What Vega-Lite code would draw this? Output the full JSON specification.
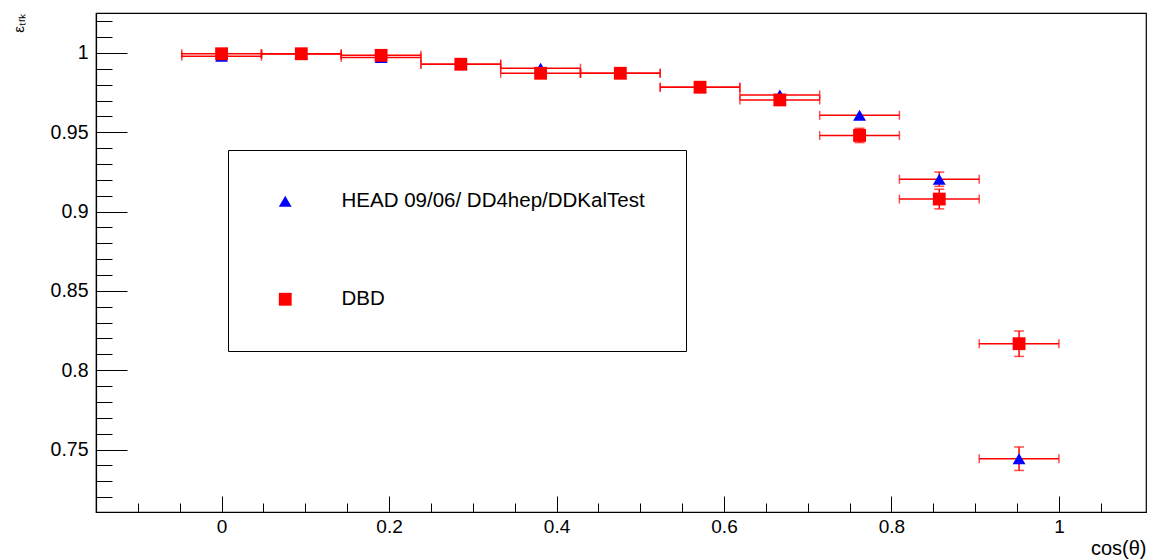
{
  "$schema": "https://vega.github.io/schema/vega-lite/v6.json",
  "autosize": {"type": "none"},
  "width": 1050,
  "height": 499,
  "padding": {"left": 96, "top": 13, "right": 3, "bottom": 47},
  "config": {
    "font": "Liberation Sans",
    "view": {"stroke": "black", "strokeWidth": 1.2},
    "axis": {"grid": false}
  },
  "data": {"values": [
    {"series": "HEAD 09/06/ DD4hep/DDKalTest", "x": 0.0, "xlo": -0.0476, "xhi": 0.0476, "y": 0.998, "ylo": 0.9975, "yhi": 0.9985},
    {"series": "HEAD 09/06/ DD4hep/DDKalTest", "x": 0.0952, "xlo": 0.0476, "xhi": 0.1429, "y": 0.9993, "ylo": 0.9988, "yhi": 0.9998},
    {"series": "HEAD 09/06/ DD4hep/DDKalTest", "x": 0.1905, "xlo": 0.1429, "xhi": 0.2381, "y": 0.9972, "ylo": 0.9964, "yhi": 0.998},
    {"series": "HEAD 09/06/ DD4hep/DDKalTest", "x": 0.2857, "xlo": 0.2381, "xhi": 0.3333, "y": 0.9929, "ylo": 0.9919, "yhi": 0.9939},
    {"series": "HEAD 09/06/ DD4hep/DDKalTest", "x": 0.381, "xlo": 0.3333, "xhi": 0.4286, "y": 0.9904, "ylo": 0.9892, "yhi": 0.9916},
    {"series": "HEAD 09/06/ DD4hep/DDKalTest", "x": 0.4762, "xlo": 0.4286, "xhi": 0.5238, "y": 0.9872, "ylo": 0.9857, "yhi": 0.9887},
    {"series": "HEAD 09/06/ DD4hep/DDKalTest", "x": 0.5714, "xlo": 0.5238, "xhi": 0.619, "y": 0.9784, "ylo": 0.9764, "yhi": 0.9804},
    {"series": "HEAD 09/06/ DD4hep/DDKalTest", "x": 0.6667, "xlo": 0.619, "xhi": 0.7143, "y": 0.9735, "ylo": 0.971, "yhi": 0.976},
    {"series": "HEAD 09/06/ DD4hep/DDKalTest", "x": 0.7619, "xlo": 0.7143, "xhi": 0.8095, "y": 0.9607, "ylo": 0.9582, "yhi": 0.9632},
    {"series": "HEAD 09/06/ DD4hep/DDKalTest", "x": 0.8571, "xlo": 0.8095, "xhi": 0.9048, "y": 0.9204, "ylo": 0.9159, "yhi": 0.9249},
    {"series": "HEAD 09/06/ DD4hep/DDKalTest", "x": 0.9524, "xlo": 0.9048, "xhi": 1.0, "y": 0.7442, "ylo": 0.7368, "yhi": 0.7516},
    {"series": "DBD", "x": 0.0, "xlo": -0.0476, "xhi": 0.0476, "y": 0.9995, "ylo": 0.999, "yhi": 1.0},
    {"series": "DBD", "x": 0.0952, "xlo": 0.0476, "xhi": 0.1429, "y": 0.9995, "ylo": 0.999, "yhi": 1.0},
    {"series": "DBD", "x": 0.1905, "xlo": 0.1429, "xhi": 0.2381, "y": 0.9985, "ylo": 0.9978, "yhi": 0.9992},
    {"series": "DBD", "x": 0.2857, "xlo": 0.2381, "xhi": 0.3333, "y": 0.9929, "ylo": 0.9919, "yhi": 0.9939},
    {"series": "DBD", "x": 0.381, "xlo": 0.3333, "xhi": 0.4286, "y": 0.9872, "ylo": 0.986, "yhi": 0.9884},
    {"series": "DBD", "x": 0.4762, "xlo": 0.4286, "xhi": 0.5238, "y": 0.9872, "ylo": 0.9857, "yhi": 0.9887},
    {"series": "DBD", "x": 0.5714, "xlo": 0.5238, "xhi": 0.619, "y": 0.9784, "ylo": 0.9764, "yhi": 0.9804},
    {"series": "DBD", "x": 0.6667, "xlo": 0.619, "xhi": 0.7143, "y": 0.9704, "ylo": 0.9679, "yhi": 0.9729},
    {"series": "DBD", "x": 0.7619, "xlo": 0.7143, "xhi": 0.8095, "y": 0.948, "ylo": 0.9435, "yhi": 0.9525},
    {"series": "DBD", "x": 0.8571, "xlo": 0.8095, "xhi": 0.9048, "y": 0.9079, "ylo": 0.9017, "yhi": 0.9141},
    {"series": "DBD", "x": 0.9524, "xlo": 0.9048, "xhi": 1.0, "y": 0.8167, "ylo": 0.8087, "yhi": 0.8247}
  ]},
  "layer": [
    {
      "mark": {"type": "rule", "color": "#ff0000", "strokeWidth": 1.5},
      "encoding": {
        "x": {
          "field": "xlo", "type": "quantitative", "title": "cos(θ)",
          "scale": {"domain": [-0.15, 1.104], "nice": false, "zero": false},
          "axis": {
            "values": [-0.1, -0.05, 0, 0.05, 0.1, 0.15, 0.2, 0.25, 0.3, 0.35, 0.4, 0.45, 0.5, 0.55, 0.6, 0.65, 0.7, 0.75, 0.8, 0.85, 0.9, 0.95, 1, 1.05],
            "tickCount": 200,
            "labelExpr": "abs(datum.value*5 - round(datum.value*5)) < 1e-6 ? format(datum.value, '~g') : ''",
            "tickSize": {"condition": {"test": "abs(datum.value*5 - round(datum.value*5)) < 1e-6", "value": -16}, "value": -9},
            "tickColor": "black", "tickWidth": 1,
            "domainColor": "black", "domainWidth": 1.2,
            "labelFont": "Liberation Sans", "labelFontSize": 19, "labelColor": "black", "labelPadding": 21,
            "labelFlush": false, "labelOverlap": false,
            "titleFont": "Liberation Sans", "titleAnchor": "end", "titleAlign": "right", "titleFontSize": 20, "titleFontWeight": "normal", "titleColor": "black", "titlePadding": -5
          }
        },
        "x2": {"field": "xhi"},
        "y": {
          "field": "y", "type": "quantitative", "title": "εₜᵣₖ",
          "scale": {"domain": [0.7106, 1.0252], "nice": false, "zero": false},
          "axis": {
            "values": [0.72, 0.73, 0.74, 0.75, 0.76, 0.77, 0.78, 0.79, 0.8, 0.81, 0.82, 0.83, 0.84, 0.85, 0.86, 0.87, 0.88, 0.89, 0.9, 0.91, 0.92, 0.93, 0.94, 0.95, 0.96, 0.97, 0.98, 0.99, 1, 1.01, 1.02],
            "tickCount": 200,
            "labelExpr": "abs(datum.value*20 - round(datum.value*20)) < 1e-6 ? format(datum.value, '~g') : ''",
            "tickSize": {"condition": {"test": "abs(datum.value*20 - round(datum.value*20)) < 1e-6", "value": -31}, "value": -16},
            "tickColor": "black", "tickWidth": 1,
            "domainColor": "black", "domainWidth": 1.2,
            "labelFont": "Liberation Sans", "labelFontSize": 19.5, "labelColor": "black", "labelPadding": 39,
            "labelFlush": false, "labelOverlap": false,
            "titleFont": "Liberation Sans", "titleAnchor": "end", "titleFontSize": 15, "titleFontWeight": "normal", "titleColor": "black", "titlePadding": 24
          }
        }
      }
    },
    {
      "mark": {"type": "tick", "orient": "vertical", "color": "#ff0000", "size": 9, "thickness": 1.5},
      "encoding": {
        "x": {"field": "xlo", "type": "quantitative", "title": "cos(θ)"},
        "y": {"field": "y", "type": "quantitative", "title": "εₜᵣₖ"}
      }
    },
    {
      "mark": {"type": "tick", "orient": "vertical", "color": "#ff0000", "size": 9, "thickness": 1.5},
      "encoding": {
        "x": {"field": "xhi", "type": "quantitative", "title": "cos(θ)"},
        "y": {"field": "y", "type": "quantitative", "title": "εₜᵣₖ"}
      }
    },
    {
      "transform": [{"filter": "datum.yhi - datum.ylo > 0.0055"}],
      "mark": {"type": "rule", "color": "#ff0000", "strokeWidth": 1.5},
      "encoding": {
        "x": {"field": "x", "type": "quantitative", "title": "cos(θ)"},
        "y": {"field": "ylo", "type": "quantitative", "title": "εₜᵣₖ"},
        "y2": {"field": "yhi"}
      }
    },
    {
      "transform": [{"filter": "datum.yhi - datum.ylo > 0.0055"}],
      "mark": {"type": "tick", "orient": "horizontal", "color": "#ff0000", "size": 10, "thickness": 1.5},
      "encoding": {
        "x": {"field": "x", "type": "quantitative", "title": "cos(θ)"},
        "y": {"field": "ylo", "type": "quantitative", "title": "εₜᵣₖ"}
      }
    },
    {
      "transform": [{"filter": "datum.yhi - datum.ylo > 0.0055"}],
      "mark": {"type": "tick", "orient": "horizontal", "color": "#ff0000", "size": 10, "thickness": 1.5},
      "encoding": {
        "x": {"field": "x", "type": "quantitative", "title": "cos(θ)"},
        "y": {"field": "yhi", "type": "quantitative", "title": "εₜᵣₖ"}
      }
    },
    {
      "mark": {"type": "point", "filled": true, "opacity": 1, "size": 165, "strokeWidth": 0},
      "encoding": {
        "x": {"field": "x", "type": "quantitative", "title": "cos(θ)"},
        "y": {"field": "y", "type": "quantitative", "title": "εₜᵣₖ"},
        "color": {
          "field": "series", "type": "nominal",
          "scale": {"domain": ["HEAD 09/06/ DD4hep/DDKalTest", "DBD"], "range": ["#0000ff", "#ff0000"]},
          "legend": {"orient": "none", "legendX": 132, "legendY": 137, "title": null, "padding": 41, "strokeColor": "black", "fillColor": "white", "labelFont": "Liberation Sans", "labelFontSize": 20.5, "labelColor": "black", "labelOffset": 46, "symbolOffset": 6, "rowPadding": 77, "symbolSize": 165, "symbolStrokeWidth": 0, "labelLimit": 400, "cornerRadius": 0}
        },
        "shape": {
          "field": "series", "type": "nominal",
          "scale": {"domain": ["HEAD 09/06/ DD4hep/DDKalTest", "DBD"], "range": ["triangle-up", "square"]},
          "legend": {"orient": "none", "legendX": 132, "legendY": 137, "title": null, "padding": 41, "strokeColor": "black", "fillColor": "white", "labelFont": "Liberation Sans", "labelFontSize": 20.5, "labelColor": "black", "labelOffset": 46, "symbolOffset": 6, "rowPadding": 77, "symbolSize": 165, "symbolStrokeWidth": 0, "labelLimit": 400, "cornerRadius": 0}
        }
      }
    }
  ]
}
